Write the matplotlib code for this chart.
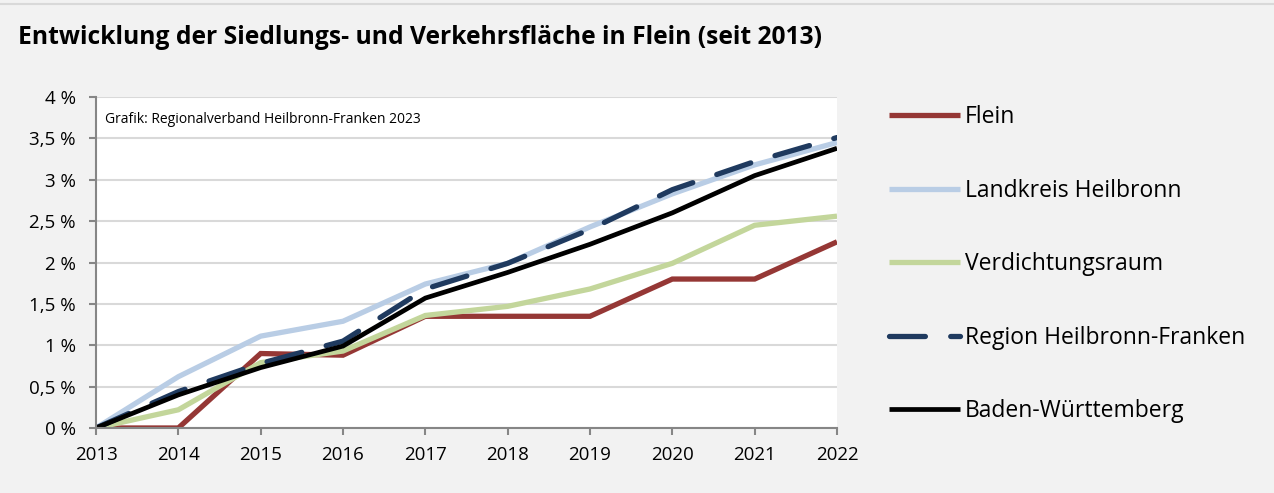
import matplotlib.pyplot as plt
from matplotlib.ticker import FuncFormatter

years = [2013, 2014, 2015, 2016, 2017, 2018, 2019, 2020, 2021, 2022]

# Zuwachs der Siedlungs- und Verkehrsfläche gegenüber 2013 in %
flein = [0.0, 0.0, 0.90, 0.88, 1.35, 1.35, 1.35, 1.80, 1.80, 2.25]
landkreis_hn = [0.0, 0.62, 1.11, 1.29, 1.74, 1.99, 2.43, 2.83, 3.18, 3.45]
verdichtungsraum = [0.0, 0.22, 0.79, 0.93, 1.36, 1.47, 1.68, 1.99, 2.45, 2.56]
region_hnf = [0.0, 0.44, 0.78, 1.05, 1.68, 1.99, 2.40, 2.88, 3.22, 3.51]
baden_wuerttemberg = [0.0, 0.40, 0.73, 0.99, 1.57, 1.88, 2.22, 2.60, 3.05, 3.38]

series = [
    ("Flein", flein, "#953735"),
    ("Landkreis Heilbronn", landkreis_hn, "#b9cde5"),
    ("Verdichtungsraum", verdichtungsraum, "#c3d69b"),
    ("Region Heilbronn-Franken", region_hnf, "#1f3a5f"),
    ("Baden-Württemberg", baden_wuerttemberg, "#000000"),
]

plt.rcParams['font.family'] = ['Open Sans', 'DejaVu Sans']

fig = plt.figure(figsize=(12.74, 4.93), dpi=100, facecolor="#f2f2f2")
ax = fig.add_axes([96 / 1274, 1 - 428 / 493, (837 - 96) / 1274, (428 - 97) / 493])
ax.set_facecolor("white")

for name, vals, col in series:
    if name == "Region Heilbronn-Franken":
        ln, = ax.plot(years, vals, color=col, lw=3.8, label=name,
                      dash_capstyle="round", solid_joinstyle="round")
        ln.set_dashes((6.8, 4.8))
    else:
        ax.plot(years, vals, color=col, lw=3.8 if col != "#000000" else 3.4,
                label=name, solid_capstyle="butt", solid_joinstyle="miter")

ax.set_xlim(2013, 2022)
ax.set_ylim(0, 4)
ax.set_xticks(years)
ax.set_yticks([i * 0.5 for i in range(9)])


def pct(v, pos):
    s = f"{v:g}".replace(".", ",")
    return f"{s} %"


ax.yaxis.set_major_formatter(FuncFormatter(pct))
ax.grid(axis="y", color="#d9d9d9", lw=1.5)
ax.set_axisbelow(True)
for s in ("top", "right"):
    ax.spines[s].set_visible(False)
for s in ("left", "bottom"):
    ax.spines[s].set_color("#868686")
    ax.spines[s].set_linewidth(1.5)
ax.tick_params(axis="both", colors="#868686", labelcolor="black",
               labelsize=13.5, length=5, width=1.5)
ax.tick_params(axis="x", pad=8)
ax.tick_params(axis="y", pad=9.5)

ax.text(0.012, 0.955, "Grafik: Regionalverband Heilbronn-Franken 2023",
        transform=ax.transAxes, fontsize=10, va="top", ha="left")

fig.text(18 / 1274, 1 - 37 / 493, "Entwicklung der Siedlungs- und Verkehrsfläche in Flein (seit 2013)",
         fontsize=17.7, fontweight="bold", va="center", ha="left")

# Legende rechts neben dem Diagramm
handles, labels = ax.get_legend_handles_labels()
fig.legend(handles, labels, loc="upper left", bbox_to_anchor=(880 / 1274, 1 - 96 / 493),
           frameon=False, fontsize=16.5, handlelength=3.1, handletextpad=0.2,
           labelspacing=2.16, borderaxespad=0)

fig.add_artist(plt.Line2D([0, 1], [1 - 4 / 493, 1 - 4 / 493], color="#d9d9d9", lw=1.5))

fig.savefig("out.png", dpi=100, facecolor=fig.get_facecolor())
